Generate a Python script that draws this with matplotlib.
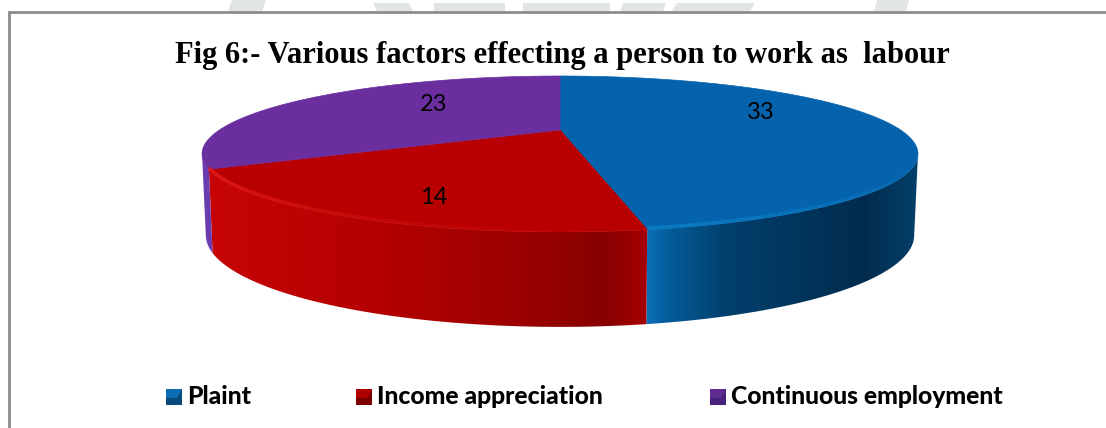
import numpy as np
import matplotlib
matplotlib.use("Agg")
import matplotlib.pyplot as plt
from matplotlib.collections import LineCollection
from matplotlib.colors import LinearSegmentedColormap, to_rgba
from matplotlib.patches import Polygon, Rectangle

# Survey counts, clockwise from twelve o'clock
categories = ["Plaint", "Income appreciation", "Continuous employment"]
counts = [33, 14, 23]
title = "Fig 6:- Various factors effecting a person to work as  labour"

W, H = 1106, 428
top_colors = ["#0563ad", "#b80000", "#6a2e9e"]
rim_colors = ["#0a7cc4", "#ee2020", "#6a2e9e"]
wall_maps = [
    LinearSegmentedColormap.from_list("blue", [(0, "#0a70b8"), (.1, "#045a96"), (.3, "#013f6c"),
                                               (.8, "#022c4e"), (1, "#04406a")]),
    LinearSegmentedColormap.from_list("red", [(0, "#c80505"), (.45, "#b00000"), (.75, "#980000"),
                                              (.9, "#860000"), (1, "#a80000")]),
    LinearSegmentedColormap.from_list("purple", ["#6a3cb0", "#6a3cb0"]),
]

fig = plt.figure(figsize=(W / 100, H / 100), dpi=100)
ax = fig.add_axes([0, 0, 1, 1])

# Perspective view of a unit disc; v points away from the viewer
TILT = 0.3077


def project(theta, half_width, y0, depth):
    u, v = np.sin(theta), np.cos(theta)
    s = 1 + TILT * v
    return 560 + half_width * u / s, y0 - depth * v / s


top_disc = dict(half_width=340.6, y0=130, depth=70.6)
base_disc = dict(half_width=337, y0=207, depth=83)

edges = np.radians(np.concatenate([[0], np.cumsum(counts)]) / sum(counts) * 360)

# Side wall: only the part between the two silhouette angles faces the viewer
right_limit = np.arccos(-TILT)
left_limit = 2 * np.pi - right_limit
for i in range(len(counts)):
    a, b = max(edges[i], right_limit), min(edges[i + 1], left_limit)
    if a >= b:
        continue
    t = np.linspace(a, b, 300)
    tx, ty = project(t, **top_disc)
    bx, by = project(t[::-1], **base_disc)
    outline = np.c_[np.r_[tx, bx], np.r_[ty, by]]
    clip = Polygon(outline, fc="none", ec="none", transform=ax.transData)
    ax.add_patch(clip)
    x0, x1 = outline[:, 0].min(), outline[:, 0].max()
    ramp = np.linspace(0, 1, 512)[None, :]
    im = ax.imshow(ramp, cmap=wall_maps[i], vmin=0, vmax=1, aspect="auto",
                   extent=(x0 - 1, x1 + 1, outline[:, 1].max() + 1, outline[:, 1].min() - 1),
                   interpolation="bilinear", zorder=1)
    im.set_clip_path(clip)

ax.set_xlim(0, W)
ax.set_ylim(H, 0)
ax.axis("off")

# Top face of each slice, with a highlight that fades along the front rim
for i in range(len(counts)):
    t = np.linspace(edges[i], edges[i + 1], 300)
    x, y = project(t, **top_disc)
    cx, cy = project(np.array([np.pi / 2]), 0, top_disc["y0"], 0)
    ax.add_patch(Polygon(np.c_[np.r_[cx, x], np.r_[cy, y]], fc=top_colors[i], ec=top_colors[i], lw=0.5, zorder=2))
    front = np.cos(t) < -0.45
    pts = np.c_[x[front], y[front] - 1.5].reshape(-1, 1, 2)
    if len(pts) > 1 and i < 2:
        segs = np.concatenate([pts[:-1], pts[1:]], axis=1)
        fade = np.linspace(0, 1, len(segs)) if i == 0 else np.linspace(0.1, 1, len(segs)) ** 2
        cols = [to_rgba(rim_colors[i], f) for f in fade]
        ax.add_collection(LineCollection(segs, colors=cols, linewidths=2.5, zorder=3))

# Value labels
label_pos = [(761, 112), (434, 197), (434, 104)]
for value, (lx, ly) in zip(counts, label_pos):
    ax.text(lx, ly, str(value), family="Lato", fontsize=17, ha="center", va="center", color="black", zorder=5)

ax.text(562, 55, title, family="Liberation Serif", weight="bold", fontsize=22,
        ha="center", va="center", color="black")

# Legend row with bevelled keys
legend_x = [166, 356, 710]
key_fill = ["#0a6db5", "#b00000", "#5f2d91"]
key_dark = ["#0a4a7a", "#7a0000", "#47217a"]
for name, kx, fill, dark in zip(categories, legend_x, key_fill, key_dark):
    ax.add_patch(Rectangle((kx, 389), 16, 16, fc=fill, ec="none"))
    ax.add_patch(Polygon([(kx, 405), (kx + 16, 405), (kx + 16, 389), (kx + 11, 398), (kx, 398)], fc=dark, ec="none"))
    ax.text(kx + 21, 396, name, family="Lato", weight=900, fontsize=17.8, ha="left", va="center", color="black")

# Faint letterhead shapes showing above the frame
for x_left, x_right, lean, y_top in [(228, 262, 4, 0), (377, 413, -4, 3), (434, 505, 0, 3), (523, 610, 0, 3),
                                     (620, 663, 3, 3), (672, 750, 5, 3), (874, 906, 3, 0)]:
    ax.add_patch(Polygon([(x_left + lean, y_top), (x_right + lean, y_top), (x_right, 11), (x_left, 11)],
                         fc="#e2e5e5", ec="none"))

# Frame: only the top and left edges are drawn
ax.plot([9, 9, W], [H, 11.5, 11.5], color="#8c8c8c", lw=2, solid_joinstyle="miter")

fig.savefig("out.png", dpi=100)
